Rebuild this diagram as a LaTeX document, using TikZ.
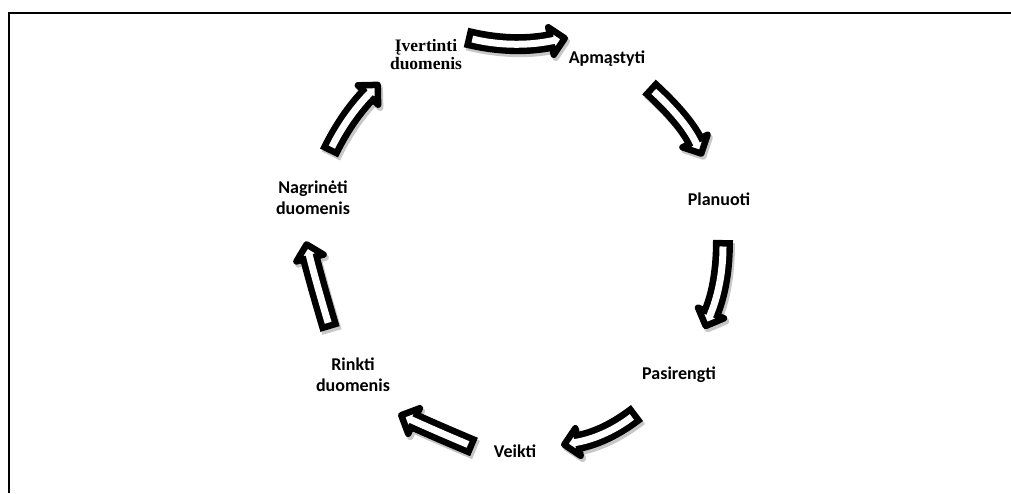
\documentclass[tikz,border=0pt]{standalone}
\usepackage{fontspec}
\setmainfont{Liberation Serif}
\newfontfamily\calibfont{Carlito}
\usetikzlibrary{calc}
\begin{document}
\begin{tikzpicture}[x=1pt,y=-1pt,
  sanslbl/.style={font=\calibfont\bfseries\fontsize{18}{20.5}\selectfont, align=center, inner sep=0pt},
  seriflbl/.style={font=\bfseries\fontsize{17.5}{18}\selectfont, align=center, inner sep=0pt},
  frameline/.style={line width=2pt},
  shaftout/.style={black, line width=20pt},
  shaftin/.style={white, line width=7pt, shorten <=6.5pt},
  headstyle/.style={fill=white, draw=black, line width=6.5pt, line join=round},
  shadowshaft/.style={black!22, line width=20pt},
  shadowhead/.style={fill=black!22, draw=black!22, line width=6.5pt, line join=round},
]
\useasboundingbox (0,0) rectangle (1011,493);
% frame
\coordinate (fbl) at (8.5,493);
\coordinate (ftl) at (8.5,12.5);
\coordinate (ftr) at (1011,12.5);
\draw[frameline] (fbl) -- (ftl) -- (ftr);

% arrows
\foreach \tx/\ty/\qx/\qy/\ex/\ey [count=\i] in {
  466/37.5/512/48.75/551/41,
  649/87/684/119/695/141,
  723/240/723/283.5/711/313,
  637/413/606.5/436.5/578/442,
  474/447/436/431/414/421,
  330/329/316/282/310/258,
  329/153/346/118/368/95}{
  \coordinate (a\i-t) at (\tx,\ty);
  \coordinate (a\i-q) at (\qx,\qy);
  \coordinate (a\i-e) at (\ex,\ey);
  \coordinate (a\i-c1) at ($(a\i-t)!0.6667!(a\i-q)$);
  \coordinate (a\i-c2) at ($(a\i-e)!0.6667!(a\i-q)$);
  \coordinate (a\i-p) at ($(a\i-e)!-14pt!(a\i-q)$);
  \coordinate (a\i-l) at ($(a\i-e)!14pt!90:(a\i-p)$);
  \coordinate (a\i-r) at ($(a\i-e)!14pt!-90:(a\i-p)$);
  \coordinate (a\i-x) at ($(a\i-e)!5pt!(a\i-p)$);
  \begin{scope}[transform canvas={shift={(2pt,-3pt)}}]
    \draw[shadowshaft] (a\i-t) .. controls (a\i-c1) and (a\i-c2) .. (a\i-e);
    \filldraw[shadowhead] (a\i-l) -- (a\i-p) -- (a\i-r) -- cycle;
  \end{scope}
  \draw[shaftout] (a\i-t) .. controls (a\i-c1) and (a\i-c2) .. (a\i-e);
  \filldraw[headstyle] (a\i-l) -- (a\i-p) -- (a\i-r) -- cycle;
  \draw[shaftin] (a\i-t) .. controls (a\i-c1) and (a\i-c2) .. (a\i-e) -- (a\i-x);
}

% labels
\node[seriflbl] (ivert) at (426,54.5) {Įvertinti\\duomenis};
\node[sanslbl] (apm) at (607,59) {Apmąstyti};
\node[sanslbl] (plan) at (719,199) {Planuoti};
\node[sanslbl] (pasi) at (679,375) {Pasirengti};
\node[sanslbl] (veik) at (515,451.5) {Veikti};
\node[sanslbl] (rinkti) at (353,374.5) {Rinkti\\duomenis};
\node[sanslbl] (nagr) at (313,197.5) {Nagrinėti\\duomenis};
\end{tikzpicture}
\end{document}
